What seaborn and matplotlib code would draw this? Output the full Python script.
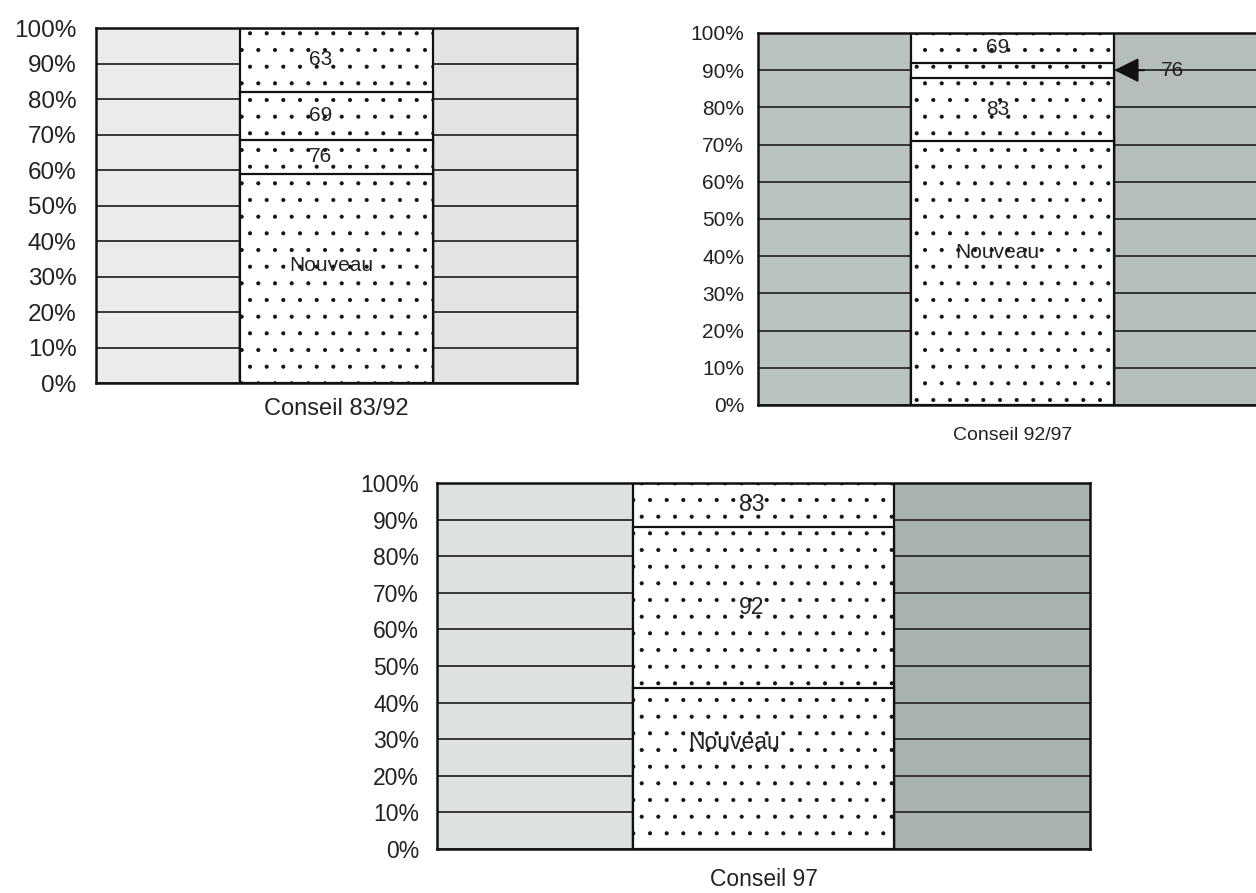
import matplotlib
matplotlib.use("Agg")
import matplotlib.pyplot as plt
import numpy as np
import pandas as pd
import seaborn as sns

# composition of each council, bottom to top (share of seats, %)
councils = ["Conseil 83/92", "Conseil 92/97", "Conseil 97"]
seg_labels = [
    ["Nouveau", "76", "69", "63"],
    ["Nouveau", "83", "76", "69"],
    ["Nouveau", "92", "83"],
]
seg_values = [
    [59, 9.5, 13.5, 18],
    [71, 17, 4, 8],
    [44, 44, 12],
]
# where the "Nouveau" text sits (it is not centred in the scan)
nouveau_label_y = [33, 41, 29]
nouveau_label_x = [-0.02, -0.06, -0.09]
y_ticks = list(range(0, 101, 10))

sns.set_theme(style="white")
plt.rcParams["font.family"] = ["Liberation Sans", "DejaVu Sans"]
plt.rcParams["hatch.color"] = "#333333"
plt.rcParams["hatch.linewidth"] = 0.5

fig = plt.figure(figsize=(12.56, 8.93), dpi=100)

positions = [
    [0.0764, 0.5711, 0.3830, 0.3975],
    [0.6035, 0.5465, 0.4053, 0.4166],
    [0.3479, 0.0493, 0.5199, 0.4099],
]
bg_left = ["#ebecea", "#bac3be", "#dde2de"]
bg_right = ["#e1e4e1", "#b5beb9", "#a9b3ae"]
tick_fs = [17.5, 15, 16.5]
tick_pad = [14, 10, 13]
label_fs = [17, 14, 16.5]
label_pad = [11, 16, 14]
text_fs = [15, 15, 16.5]
num_x = [-0.067, -0.06, -0.035]

for i, council in enumerate(councils):
    ax = fig.add_axes(positions[i])
    vals = np.array(seg_values[i])
    tops = np.cumsum(vals)
    df = pd.DataFrame({"council": council, "top": tops, "segment": seg_labels[i]})

    # tallest cumulative bar first, shorter ones drawn over it
    order = seg_labels[i][::-1]
    sns.barplot(data=df, x="council", y="top", hue="segment", hue_order=order,
                dodge=False, palette=["white"] * len(order), saturation=1,
                width=0.8, edgecolor="#111111", linewidth=1.6, hatch=".",
                legend=False, ax=ax)

    ax.axvspan(-1, -0.4, color=bg_left[i], zorder=0)
    ax.axvspan(0.4, 1, color=bg_right[i], zorder=0)
    ax.set_axisbelow(True)
    ax.yaxis.grid(True, color="#2a2a2a", linewidth=1.3)
    ax.xaxis.grid(False)

    ax.set_xlim(-1, 1)
    ax.set_ylim(0, 100)
    ax.set_yticks(y_ticks)
    ax.set_yticklabels([f"{t}%" for t in y_ticks])
    ax.tick_params(axis="y", length=0, pad=tick_pad[i], labelsize=tick_fs[i], labelcolor="#222222")
    ax.set_xticks([])
    ax.set_ylabel("")
    ax.set_xlabel(council, fontsize=label_fs[i], color="#222222", labelpad=label_pad[i])
    for sp in ax.spines.values():
        sp.set_visible(True)
        sp.set_color("#111111")
        sp.set_linewidth(1.8)

    bottoms = tops - vals
    for lab, v, b in zip(seg_labels[i], vals, bottoms):
        if lab == "Nouveau":
            ax.text(nouveau_label_x[i], nouveau_label_y[i], lab, ha="center", va="center",
                    fontsize=text_fs[i], color="#222222")
        elif v < 5:
            ax.annotate(lab, xy=(0.4, b + v / 2), xytext=(0.63, b + v / 2),
                        ha="center", va="center", fontsize=text_fs[i], color="#222222",
                        arrowprops=dict(arrowstyle="-|>,head_length=1.0,head_width=0.5",
                                        color="#111111", lw=1.5, shrinkA=10, shrinkB=0))
        else:
            ax.text(num_x[i], b + v / 2, lab, ha="center", va="center",
                    fontsize=text_fs[i], color="#222222")

fig.savefig("out.png", dpi=100)
